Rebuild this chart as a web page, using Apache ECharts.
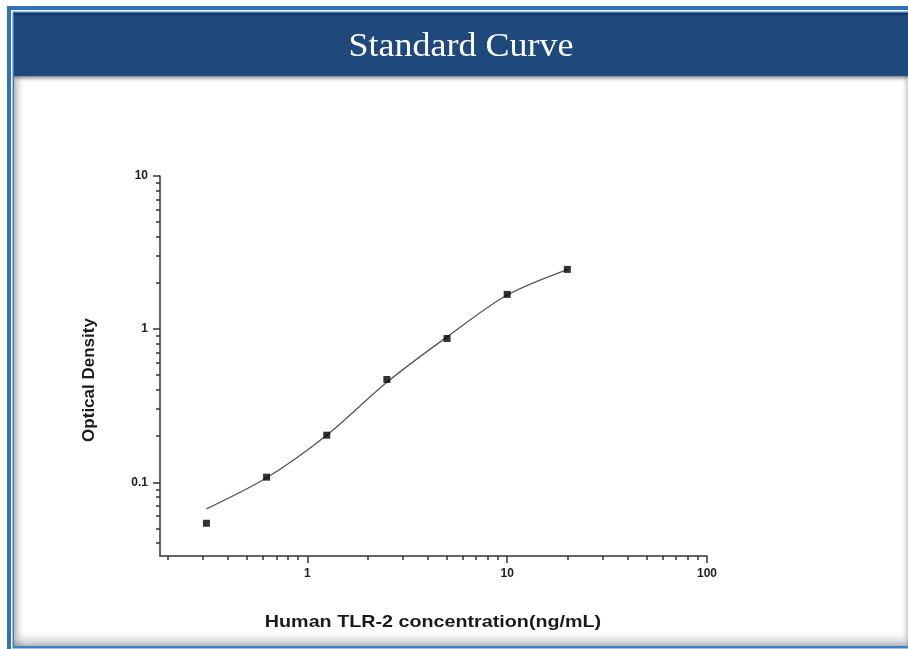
<!DOCTYPE html>
<html>
<head>
<meta charset="utf-8">
<title>Standard Curve</title>
<script src="https://cdn.jsdelivr.net/npm/echarts@6/dist/echarts.min.js"></script>
<style>
  html, body { margin: 0; padding: 0; background: #ffffff; }
  #chart { width: 908px; height: 649px; }
</style>
</head>
<body>
<div id="chart"></div>
<script>
// Standard points: concentration (ng/mL) vs optical density
const concentrations = [0.3125, 0.625, 1.25, 2.5, 5, 10, 20];
const odValues = [0.054, 0.108, 0.203, 0.469, 0.869, 1.686, 2.455];

// Fitted curve, read along its path at each standard concentration
const fitConc = [0.3125, 0.625, 1.25, 2.5, 5, 10, 20];
const fitOD = [0.067, 0.107, 0.203, 0.45, 0.89, 1.67, 2.45];

// Axis ticks
const xMajorTicks = [1, 10, 100];
const xMinorTicks = [0.2, 0.3, 0.4, 0.5, 0.6, 0.7, 0.8, 0.9,
                     2, 3, 4, 5, 6, 7, 8, 9,
                     20, 30, 40, 50, 60, 70, 80, 90];
const yMajorTicks = [0.1, 1, 10];
const yMinorTicks = [0.04, 0.05, 0.06, 0.07, 0.08, 0.09,
                     0.2, 0.3, 0.4, 0.5, 0.6, 0.7, 0.8, 0.9,
                     2, 3, 4, 5, 6, 7, 8, 9];

const titleText = 'Standard Curve';
const xTitle = 'Human TLR-2 concentration(ng/mL)';
const yTitle = 'Optical Density';

const X_MIN = 0.183, X_MAX = 100;
const Y_MIN = 0.033, Y_MAX = 10;

const axisColor = '#333333';
const labelFont = { fontFamily: 'Liberation Sans', fontWeight: 'bold', fontSize: 12, color: '#222222' };

function fmt(v) { return String(+v.toPrecision(6)); }

function xAxisPair() {
  return [
    {
      type: 'log', logBase: 10, min: X_MIN, max: X_MAX, position: 'bottom', gridIndex: 0,
      axisLine: { show: true, lineStyle: { color: axisColor, width: 1.5 } },
      axisTick: { show: true, inside: false, length: 7, customValues: xMajorTicks,
                  lineStyle: { color: axisColor, width: 1.5 } },
      axisLabel: Object.assign({ customValues: xMajorTicks, formatter: fmt, margin: 12 }, labelFont),
      splitLine: { show: false }, minorTick: { show: false }
    },
    {
      type: 'log', logBase: 10, min: X_MIN, max: X_MAX, position: 'bottom', gridIndex: 0,
      axisLine: { show: false },
      axisTick: { show: true, inside: false, length: 4, customValues: xMinorTicks,
                  lineStyle: { color: axisColor, width: 1.5 } },
      axisLabel: { show: false },
      splitLine: { show: false }
    }
  ];
}

function yAxisPair() {
  return [
    {
      type: 'log', logBase: 10, min: Y_MIN, max: Y_MAX, position: 'left', gridIndex: 0,
      axisLine: { show: true, lineStyle: { color: axisColor, width: 1.5 } },
      axisTick: { show: true, inside: false, length: 7, customValues: yMajorTicks,
                  lineStyle: { color: axisColor, width: 1.5 } },
      axisLabel: Object.assign({ customValues: yMajorTicks, formatter: fmt, margin: 12 }, labelFont),
      splitLine: { show: false }
    },
    {
      type: 'log', logBase: 10, min: Y_MIN, max: Y_MAX, position: 'left', gridIndex: 0,
      axisLine: { show: false },
      axisTick: { show: true, inside: false, length: 4, customValues: yMinorTicks,
                  lineStyle: { color: axisColor, width: 1.5 } },
      axisLabel: { show: false },
      splitLine: { show: false }
    }
  ];
}

const chart = echarts.init(document.getElementById('chart'), null, { renderer: 'canvas' });

const frameBlue = '#2e75b6';
const barBlue = '#1f497d';

chart.setOption({
  backgroundColor: '#ffffff',
  animation: false,
  grid: { left: 160, right: 201, top: 176, bottom: 93, containLabel: false },
  xAxis: xAxisPair(),
  yAxis: yAxisPair(),
  graphic: [
    // outer frame
    { type: 'rect', z: -20, silent: true, shape: { x: 7, y: 6, width: 960, height: 700 }, style: { fill: frameBlue } },
    { type: 'rect', z: -19, silent: true, shape: { x: 11, y: 10, width: 960, height: 700 }, style: { fill: '#ffffff' } },
    { type: 'rect', z: -18, silent: true, shape: { x: 12.5, y: 11.5, width: 960, height: 637 }, style: { fill: '#3b7fc4' } },
    { type: 'rect', z: -17, silent: true, shape: { x: 14, y: 13, width: 960, height: 633 }, style: { fill: '#ffffff' } },
    // inner shading at the panel edges
    { type: 'rect', z: -16, silent: true, shape: { x: 14, y: 76, width: 12, height: 570 },
      style: { fill: new echarts.graphic.LinearGradient(0, 0, 1, 0, [
        { offset: 0, color: 'rgba(120,120,120,0.55)' }, { offset: 1, color: 'rgba(255,255,255,0)' }]) } },
    { type: 'rect', z: -16, silent: true, shape: { x: 14, y: 630, width: 960, height: 16 },
      style: { fill: new echarts.graphic.LinearGradient(0, 0, 0, 1, [
        { offset: 0, color: 'rgba(255,255,255,0)' }, { offset: 1, color: 'rgba(120,120,120,0.55)' }]) } },
    { type: 'rect', z: -16, silent: true, shape: { x: 900, y: 76, width: 8, height: 570 },
      style: { fill: new echarts.graphic.LinearGradient(0, 0, 1, 0, [
        { offset: 0, color: 'rgba(255,255,255,0)' }, { offset: 1, color: 'rgba(150,150,150,0.5)' }]) } },
    // title bar and its shadow
    { type: 'rect', z: -15, silent: true, shape: { x: 14, y: 76, width: 960, height: 7 },
      style: { fill: new echarts.graphic.LinearGradient(0, 0, 0, 1, [
        { offset: 0, color: 'rgba(90,90,90,0.75)' }, { offset: 1, color: 'rgba(255,255,255,0)' }]) } },
    { type: 'rect', z: -14, silent: true, shape: { x: 14, y: 13, width: 960, height: 63 }, style: { fill: barBlue } },
    { type: 'rect', z: -13, silent: true, shape: { x: 14, y: 13, width: 960, height: 3 },
      style: { fill: new echarts.graphic.LinearGradient(0, 0, 0, 1, [
        { offset: 0, color: 'rgba(10,25,50,0.6)' }, { offset: 1, color: 'rgba(10,25,50,0)' }]) } },
    { type: 'text', z: 10, silent: true, x: 461, y: 47, scaleX: 1.09,
      style: { text: titleText, fill: '#ffffff', font: '33px "Liberation Serif"', textAlign: 'center', textVerticalAlign: 'middle' } },
    // axis titles
    { type: 'text', z: 10, silent: true, x: 433, y: 622, scaleX: 1.16,
      style: { text: xTitle, fill: '#1a1a1a', font: 'bold 17px "Liberation Sans"', textAlign: 'center', textVerticalAlign: 'middle' } },
    { type: 'text', z: 10, silent: true, x: 89, y: 380, rotation: Math.PI / 2,
      style: { text: yTitle, fill: '#1a1a1a', font: 'bold 17px "Liberation Sans"', textAlign: 'center', textVerticalAlign: 'middle' } }
  ],
  series: [
    {
      name: 'fit', type: 'line', xAxisIndex: 0, yAxisIndex: 0,
      data: fitConc.map((c, i) => [c, fitOD[i]]),
      smooth: 0.3, showSymbol: false, symbol: 'none',
      lineStyle: { color: '#555555', width: 1.3 }, z: 3
    },
    {
      name: 'standards', type: 'scatter', xAxisIndex: 0, yAxisIndex: 0,
      data: concentrations.map((c, i) => [c, odValues[i]]),
      symbol: 'rect', symbolSize: 7,
      itemStyle: { color: '#000000' }, z: 4
    }
  ]
});
</script>
</body>
</html>
